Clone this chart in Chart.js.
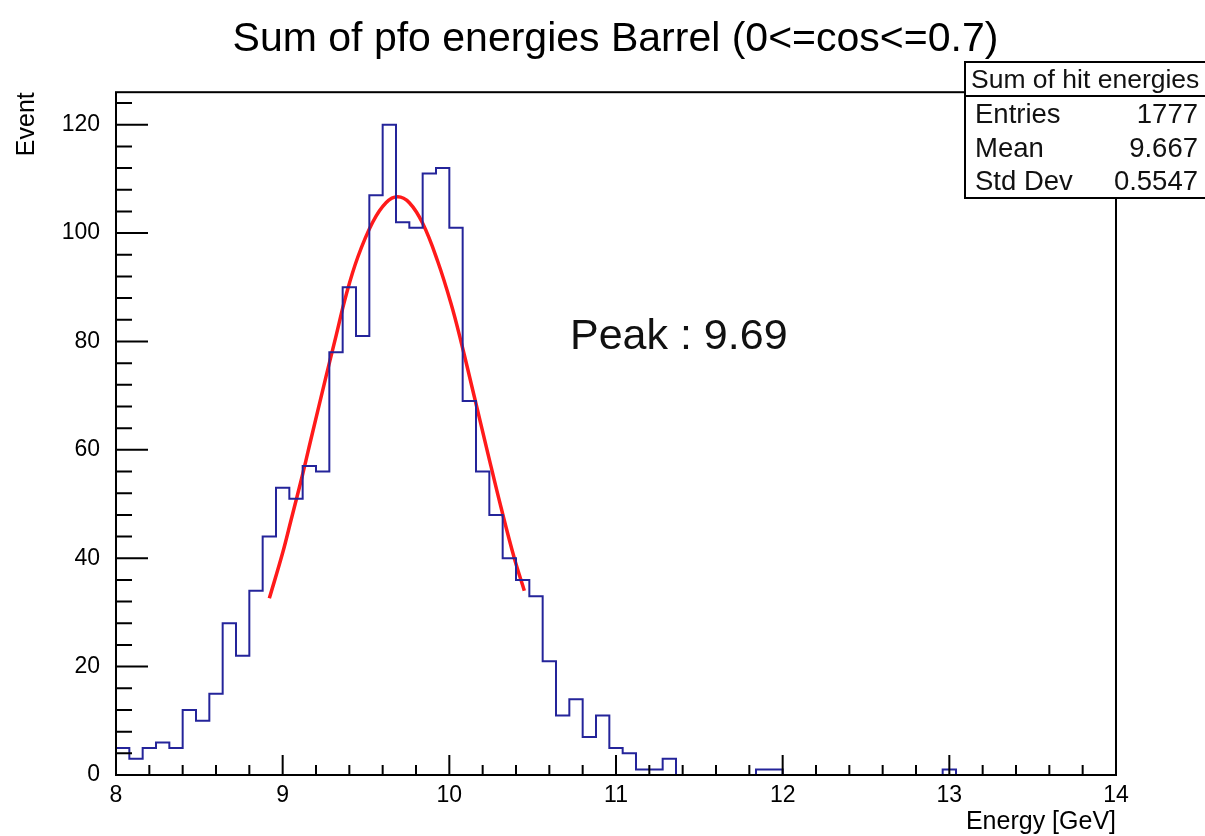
<!DOCTYPE html>
<html>
<head>
<meta charset="utf-8">
<script src="https://cdn.jsdelivr.net/npm/chart.js@4.4.1/dist/chart.umd.min.js"></script>
<style>
  html, body { margin: 0; padding: 0; background: #fff; }
  #wrap { width: 1205px; height: 836px; }
</style>
</head>
<body>
<div id="wrap"><canvas id="hist" width="1205" height="836"></canvas></div>
<script>
// histogram definition: 75 bins from 8 to 14 GeV
const xMin = 8;
const xMax = 14;
const nBins = 75;

// bin contents
const counts = [
  5, 3, 5, 6, 5, 12, 10, 15, 28, 22, 34, 44,
  53, 51, 57, 56, 78, 90, 81, 107, 120,
  102, 101, 111, 112, 101, 69,
  56, 48, 40, 36, 33,
  21, 11, 14, 7, 11, 5, 4, 1, 1, 3,
  0, 0, 0, 0, 0, 0,
  1, 1,
  0, 0, 0, 0, 0, 0, 0, 0, 0, 0, 0, 0,
  1,
  0, 0, 0, 0, 0, 0, 0, 0, 0, 0, 0, 0
];

// gaussian fit curve
const fitX = [8.92, 9.00, 9.05, 9.12, 9.17, 9.26, 9.32, 9.38, 9.45, 9.54, 9.62, 9.69,
              9.76, 9.84, 9.93, 10.01, 10.07, 10.15, 10.23, 10.31, 10.39, 10.45];
const fitY = [32.6, 41, 47, 55.5, 62, 73.5, 81, 88.5, 95.5, 102, 105.6, 106.7,
              105.6, 101.8, 94.8, 87, 80, 69.8, 59.5, 49.4, 40, 34];

// axis ticks
const xTickValues = [8, 9, 10, 11, 12, 13, 14];
const yTickValues = [0, 20, 40, 60, 80, 100, 120];
const xMinorStep = 0.2;
const yMinorStep = 4;

// stats box
const statsTitle = 'Sum of hit energies';
const statsLabels = ['Entries', 'Mean', 'Std Dev'];
const statsValues = ['1777', '9.667', '0.5547'];
const peakText = 'Peak : 9.69';

const FONT = "'Liberation Sans', Arial, Helvetica, sans-serif";
const binWidth = (xMax - xMin) / nBins;

// step outline points (left edge of each bin, closing point at xMax)
const histPoints = [{ x: xMin, y: 0 }];
counts.forEach((c, i) => histPoints.push({ x: xMin + i * binWidth, y: c }));
histPoints.push({ x: xMax, y: counts[counts.length - 1] });

const fitPoints = fitX.map((x, i) => ({ x: x, y: fitY[i] }));

// ROOT style: ticks inside the frame, frame, stats box, peak label
const rootFrame = {
  id: 'rootFrame',
  afterDatasetsDraw(chart) {
    const { ctx, chartArea: a, scales: { x, y } } = chart;
    ctx.save();
    ctx.strokeStyle = '#000';
    ctx.lineWidth = 2;

    // x ticks
    ctx.beginPath();
    for (let v = xMin; v <= xMax + 1e-9; v += xMinorStep) {
      const px = x.getPixelForValue(v);
      const major = xTickValues.some(t => Math.abs(t - v) < 1e-6);
      ctx.moveTo(px, a.bottom);
      ctx.lineTo(px, a.bottom - (major ? 20 : 10));
    }
    // y ticks
    for (let v = 0; v <= y.max + 1e-9; v += yMinorStep) {
      const py = y.getPixelForValue(v);
      const major = yTickValues.includes(v);
      ctx.moveTo(a.left, py);
      ctx.lineTo(a.left + (major ? 32 : 16), py);
    }
    ctx.stroke();

    // frame
    ctx.strokeRect(a.left, a.top, a.right - a.left, a.bottom - a.top);

    // stats box
    const bx = 965, by = 62, bw = 260, bh = 136;
    ctx.fillStyle = '#fff';
    ctx.fillRect(bx, by, bw, bh);
    ctx.strokeRect(bx, by, bw, bh);
    ctx.beginPath();
    ctx.moveTo(bx, by + 34);
    ctx.lineTo(bx + bw, by + 34);
    ctx.stroke();

    ctx.fillStyle = '#111';
    ctx.textBaseline = 'alphabetic';
    ctx.textAlign = 'left';
    ctx.font = '26.5px ' + FONT;
    ctx.fillText(statsTitle, 971, 88);
    ctx.font = '27.5px ' + FONT;
    statsLabels.forEach((lab, i) => {
      const base = 123 + i * 33.5;
      ctx.textAlign = 'left';
      ctx.fillText(lab, 975, base);
      ctx.textAlign = 'right';
      ctx.fillText(statsValues[i], 1198, base);
    });

    // peak annotation
    ctx.textAlign = 'left';
    ctx.font = '43px ' + FONT;
    ctx.fillStyle = '#111';
    ctx.fillText(peakText, 570, 349);
    ctx.restore();
  }
};

new Chart(document.getElementById('hist'), {
  type: 'line',
  data: {
    datasets: [{
      label: 'Sum of hit energies',
      data: histPoints,
      stepped: true,
      borderColor: '#24249a',
      borderWidth: 2,
      pointRadius: 0,
      fill: false
    }, {
      label: 'fit',
      data: fitPoints,
      borderColor: '#ff1a1a',
      borderWidth: 3.5,
      pointRadius: 0,
      tension: 0.4,
      fill: false
    }]
  },
  plugins: [rootFrame],
  options: {
    responsive: false,
    animation: false,
    layout: { padding: { left: 26, right: 0, top: 0, bottom: 0 } },
    plugins: {
      legend: { display: false },
      tooltip: { enabled: false },
      title: {
        display: true,
        text: 'Sum of pfo energies Barrel (0<=cos<=0.7)',
        color: '#000',
        font: { family: FONT, size: 41, weight: 'normal' },
        padding: { top: 15, bottom: 28 }
      }
    },
    scales: {
      x: {
        type: 'linear',
        min: xMin,
        max: xMax,
        afterBuildTicks: s => { s.ticks = xTickValues.map(v => ({ value: v })); },
        afterFit: s => { s.height = 61; },
        grid: { display: false, drawTicks: false },
        border: { display: false },
        ticks: {
          color: '#000',
          padding: 7,
          maxRotation: 0,
          autoSkip: false,
          font: { family: FONT, size: 23 }
        },
        title: {
          display: true,
          text: 'Energy [GeV]',
          align: 'end',
          color: '#000',
          font: { family: FONT, size: 25, lineHeight: 1 },
          padding: { top: 0, bottom: 1 }
        }
      },
      y: {
        type: 'linear',
        min: 0,
        max: 126,
        afterBuildTicks: s => { s.ticks = yTickValues.map(v => ({ value: v })); },
        afterFit: s => { s.width = 90; },
        grid: { display: false, drawTicks: false },
        border: { display: false },
        ticks: {
          color: '#000',
          padding: 16,
          font: { family: FONT, size: 23 }
        },
        title: {
          display: true,
          text: 'Event',
          align: 'end',
          color: '#000',
          font: { family: FONT, size: 25, lineHeight: 1 },
          padding: { top: -11, bottom: 0 }
        }
      },
      yRight: {
        type: 'linear',
        position: 'right',
        min: 0,
        max: 126,
        afterFit: s => { s.width = 89; },
        grid: { display: false, drawTicks: false },
        border: { display: false },
        ticks: { display: false }
      }
    }
  }
});
</script>
</body>
</html>
